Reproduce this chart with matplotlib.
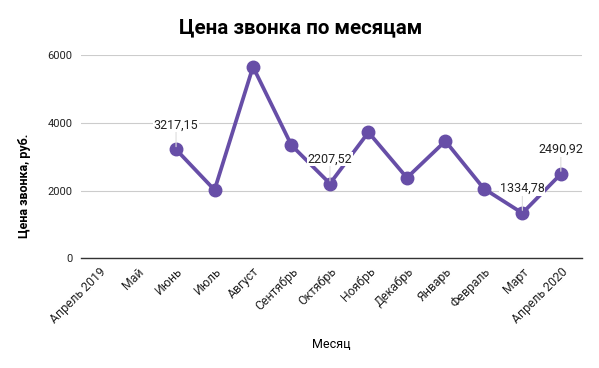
import matplotlib.pyplot as plt
import numpy as np

months = ['Апрель 2019', 'Май', 'Июнь', 'Июль', 'Август', 'Сентябрь', 'Октябрь',
          'Ноябрь', 'Декабрь', 'Январь', 'Февраль', 'Март', 'Апрель 2020']
price = [np.nan, np.nan, 3217.15, 2020, 5660, 3340, 2207.52,
         3725, 2380, 3465, 2058, 1334.78, 2490.92]
labeled = ['Июнь', 'Октябрь', 'Март', 'Апрель 2020']

plt.rcParams['font.family'] = ['Roboto', 'DejaVu Sans']
color = '#674ea7'

fig = plt.figure(figsize=(5.99, 3.68), dpi=100)
ax = fig.add_axes([81 / 599, 1 - 258.3 / 368, 501 / 599, 203 / 368])

x = np.arange(len(months))
ax.plot(x, price, color=color, lw=2.7, marker='o', ms=9, zorder=3)

for i, m in enumerate(months):
    if m in labeled:
        txt = f'{price[i]:.2f}'.replace('.', ',')
        ax.annotate(txt, (x[i], price[i]), xytext=(0, 13), textcoords='offset points',
                    ha='center', va='bottom', fontsize=9, color='#222222',
                    bbox=dict(boxstyle='square,pad=0.05', fc='white', ec='none'),
                    arrowprops=dict(arrowstyle='-', color='#dddddd', lw=0.8,
                                    shrinkA=0, shrinkB=2), zorder=4)

ax.set_xlim(-0.47, len(months) - 0.45)
ax.set_ylim(0, 6000)
ax.set_yticks([0, 2000, 4000, 6000])
ax.set_xticks(x)
ax.set_xticklabels(months, rotation=45, ha='right', rotation_mode='anchor', fontsize=8.8)
ax.tick_params(axis='both', length=0, colors='#222222')
ax.tick_params(axis='y', labelsize=8, pad=6)
ax.tick_params(axis='x', pad=5)
ax.grid(axis='y', color='#cccccc', lw=0.8)
ax.set_axisbelow(True)
for s in ['top', 'right', 'left']:
    ax.spines[s].set_visible(False)
ax.spines['bottom'].set_color('#333333')
ax.spines['bottom'].set_linewidth(1)

fig.text(0.502, 0.925, 'Цена звонка по месяцам', ha='center', va='center',
         fontsize=14.8, fontweight='bold')
fig.text(25 / 599, 1 - 186 / 368, 'Цена звонка, руб.', ha='center', va='center',
         rotation=90, fontsize=9, fontweight='bold')
fig.text(331 / 599, 1 - 344 / 368, 'Месяц', ha='center', va='center', fontsize=9)

fig.savefig('out.png', dpi=100)
